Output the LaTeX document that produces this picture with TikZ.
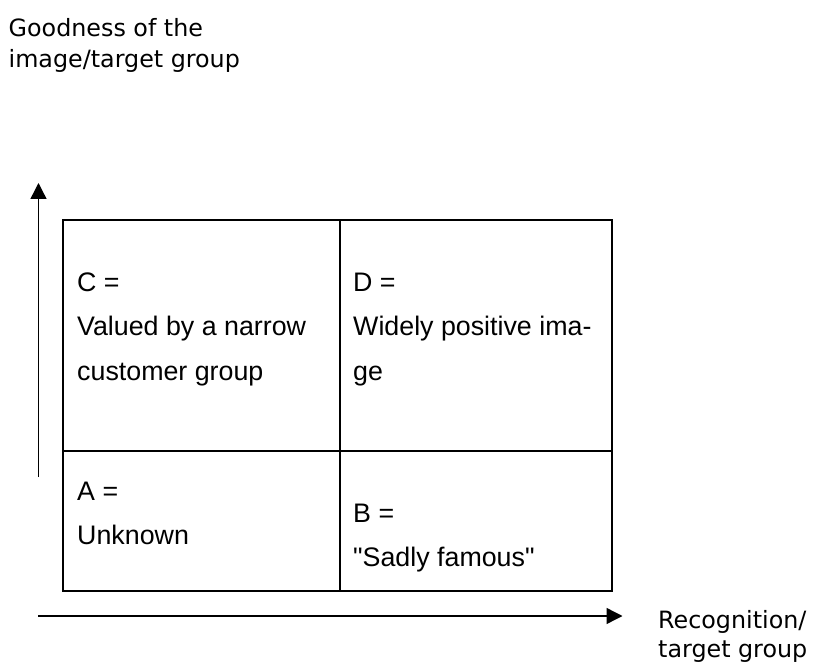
\documentclass[tikz,border=0pt]{standalone}
\usepackage{fontspec}
\setmainfont{Liberation Sans}
\newfontfamily\axisfont{DejaVu Sans}
\newfontfamily\cellfont{Liberation Sans}
\usetikzlibrary{arrows.meta}
\begin{document}
\begin{tikzpicture}[x=1pt,y=-1pt,
  axislabel/.style={anchor=base west,inner sep=0pt,font=\axisfont\fontsize{23.8}{29}\selectfont},
  celltext/.style={anchor=base west,inner sep=0pt,font=\cellfont\fontsize{26.8}{44}\selectfont},
  grid/.style={line width=2.2pt,line cap=rect},
  axis/.style={line width=1.4pt,-{Triangle[length=16pt,width=16pt]}}]
\useasboundingbox (0,0) rectangle (814,668);
% table
\draw[grid] (63,220) rectangle (612,591);
\draw[grid] (340,220) -- (340,591);
\draw[grid] (63,451) -- (612,451);
% axes
\coordinate (yfrom) at (38.5,477);
\coordinate (yto) at (38.5,183);
\coordinate (xfrom) at (38,616);
\coordinate (xto) at (622.5,616);
\draw[axis] (yfrom) -- (yto);
\draw[axis] (xfrom) -- (xto);
% axis labels
\node[axislabel] (ylab1) at (8.5,37) {Goodness of the};
\node[axislabel] (ylab2) at (8.5,68) {image/target group};
\node[axislabel] (xlab1) at (658,628) {Recognition/};
\node[axislabel] (xlab2) at (658,657) {target group};
% cell C
\node[celltext] (c1) at (77,292) {C =};
\node[celltext] (c2) at (77,336) {Valued by a narrow};
\node[celltext] (c3) at (77,380) {customer group};
% cell D
\node[celltext] (d1) at (353,292) {D =};
\node[celltext] (d2) at (353,336) {Widely positive ima-};
\node[celltext] (d3) at (353,380) {ge};
% cell A
\node[celltext] (a1) at (77,500) {A =};
\node[celltext] (a2) at (77,544) {Unknown};
% cell B
\node[celltext] (b1) at (353,522) {B =};
\node[celltext] (b2) at (353,566) {"Sadly famous"};
\end{tikzpicture}
\end{document}
